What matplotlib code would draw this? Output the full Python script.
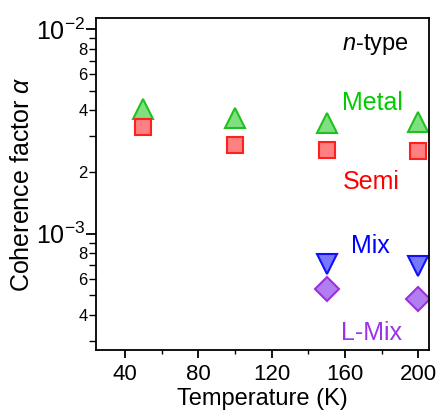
import numpy as np
import matplotlib
matplotlib.use("Agg")
from matplotlib import pyplot as plt
from matplotlib.ticker import FixedLocator, FixedFormatter

plt.rcParams['font.family'] = ['Liberation Sans', 'DejaVu Sans']
plt.rcParams['mathtext.fontset'] = 'custom'
plt.rcParams['mathtext.rm'] = 'Liberation Sans'
plt.rcParams['mathtext.it'] = 'Liberation Sans:italic'

# data
temp_metal = [50, 100, 150, 200]
alpha_metal = [4.05e-3, 3.65e-3, 3.48e-3, 3.52e-3]
temp_semi = [50, 100, 150, 200]
alpha_semi = [3.3e-3, 2.72e-3, 2.57e-3, 2.52e-3]
temp_mix = [150, 200]
alpha_mix = [7.1e-4, 6.95e-4]
temp_lmix = [150, 200]
alpha_lmix = [5.35e-4, 4.78e-4]

x_ticks = [40, 80, 120, 160, 200]
x_minor = [60, 100, 140, 180]
y_major = [1e-3, 1e-2]
y_major_lab = [r'$10^{-3}$', r'$10^{-2}$']
y_minor = [3e-4, 4e-4, 5e-4, 6e-4, 7e-4, 8e-4, 9e-4,
           2e-3, 3e-3, 4e-3, 5e-3, 6e-3, 7e-3, 8e-3, 9e-3]
y_minor_lab = ['', '4', '', '6', '', '8', '',
               '2', '', '4', '', '6', '', '8', '']

fig = plt.figure(figsize=(4.39, 4.17), dpi=100)
ax = fig.add_axes([0.2187, 0.1607, 0.7585, 0.7961])

ax.plot(temp_metal, alpha_metal, ls='none', marker='^', ms=14,
        mfc='#80e080', mec='#20c020', mew=1.5)
ax.plot(temp_semi, alpha_semi, ls='none', marker='s', ms=12,
        mfc='#ff8080', mec='#ff2020', mew=1.5)
ax.plot(temp_mix, alpha_mix, ls='none', marker='v', ms=14,
        mfc='#7878ff', mec='#1010ff', mew=1.5)
ax.plot(temp_lmix, alpha_lmix, ls='none', marker='D', ms=12,
        mfc='#b07ef0', mec='#9b30e0', mew=1.5)

ax.set_yscale('log')
ax.set_xlim(24.2, 205.8)
ax.set_ylim(2.70e-4, 1.13e-2)

ax.xaxis.set_major_locator(FixedLocator(x_ticks))
ax.xaxis.set_minor_locator(FixedLocator(x_minor))
ax.yaxis.set_major_locator(FixedLocator(y_major))
ax.yaxis.set_major_formatter(FixedFormatter(y_major_lab))
ax.yaxis.set_minor_locator(FixedLocator(y_minor))
ax.yaxis.set_minor_formatter(FixedFormatter(y_minor_lab))

ax.tick_params(axis='x', which='major', direction='out', length=6, width=1.3,
               labelsize=16, pad=4)
ax.tick_params(axis='x', which='minor', direction='out', length=3, width=1.0)
ax.tick_params(axis='y', which='major', direction='out', length=7, width=1.3,
               labelsize=18, pad=1)
ax.tick_params(axis='y', which='minor', direction='out', length=5, width=1.0,
               labelsize=12, pad=1)
for s in ax.spines.values():
    s.set_linewidth(1.3)

ax.set_xlabel('Temperature (K)', fontsize=17, labelpad=2)
ax.set_ylabel(r'Coherence factor $\mathit{\alpha}$', fontsize=18, labelpad=1)

ax.text(0.838, 0.919, r'$\mathit{n}$-type', fontsize=17, transform=ax.transAxes,
        ha='center', va='center', color='black')
ax.text(0.829, 0.744, 'Metal', fontsize=18, transform=ax.transAxes,
        ha='center', va='center', color='#00cc00')
ax.text(0.826, 0.506, 'Semi', fontsize=18, transform=ax.transAxes,
        ha='center', va='center', color='#ff0000')
ax.text(0.823, 0.313, 'Mix', fontsize=18, transform=ax.transAxes,
        ha='center', va='center', color='#0000ff')
ax.text(0.826, 0.051, 'L-Mix', fontsize=18, transform=ax.transAxes,
        ha='center', va='center', color='#9933ee')

fig.savefig('out.png', dpi=100)
